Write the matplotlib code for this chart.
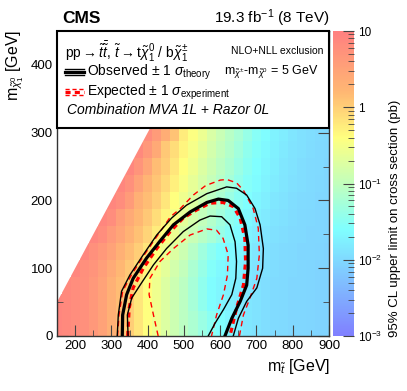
import numpy as np
import matplotlib
matplotlib.use("Agg")
import matplotlib.pyplot as plt
from matplotlib.colors import LinearSegmentedColormap, LogNorm
from matplotlib.patches import Rectangle, Polygon
from matplotlib.ticker import LogLocator, FixedLocator, NullFormatter

plt.rcParams['font.family'] = ['Liberation Sans', 'DejaVu Sans']
plt.rcParams['mathtext.fontset'] = 'custom'
plt.rcParams['mathtext.rm'] = 'Liberation Sans'
plt.rcParams['mathtext.it'] = 'Liberation Sans:italic'
plt.rcParams['mathtext.bf'] = 'Liberation Sans:bold'

nan = np.nan

# grid of the limit map (cell centres, GeV)
m_stop = np.arange(150, 901, 25)
m_lsp = np.arange(0, 301, 25)

# log10 of the 95% CL upper limit (pb), one row per m_lsp
row_0 = [0.90, 0.85, 0.80, 0.75, 0.65, 0.50, 0.30, 0.15, 0.00, -0.20, -0.40, -0.55, -0.75, -0.90, -1.05, -1.20, -1.35, -1.50, -1.60, -1.70, -1.78, -1.85, -1.90, -1.94, -1.97, -2.00, -2.02, -2.03, -2.04, -2.05, -2.05]
row_25 = [0.90, 0.85, 0.80, 0.75, 0.65, 0.50, 0.30, 0.15, 0.00, -0.20, -0.40, -0.55, -0.75, -0.90, -1.05, -1.20, -1.35, -1.50, -1.60, -1.70, -1.78, -1.85, -1.90, -1.94, -1.97, -2.00, -2.02, -2.03, -2.04, -2.05, -2.05]
row_50 = [0.90, 0.85, 0.80, 0.75, 0.65, 0.50, 0.30, 0.15, 0.00, -0.20, -0.40, -0.55, -0.75, -0.90, -1.05, -1.25, -1.45, -1.62, -1.70, -1.75, -1.80, -1.85, -1.90, -1.94, -1.97, -2.00, -2.02, -2.03, -2.04, -2.05, -2.05]
row_75 = [nan, 0.85, 0.80, 0.75, 0.65, 0.50, 0.30, 0.15, 0.00, -0.20, -0.40, -0.55, -0.75, -0.90, -1.05, -1.25, -1.45, -1.62, -1.70, -1.75, -1.80, -1.85, -1.90, -1.94, -1.97, -2.00, -2.02, -2.03, -2.04, -2.05, -2.05]
row_100 = [nan, nan, 0.90, 0.77, 0.69, 0.56, 0.38, 0.21, 0.06, -0.12, -0.32, -0.49, -0.67, -0.84, -0.99, -1.19, -1.39, -1.56, -1.66, -1.71, -1.75, -1.82, -1.88, -1.92, -1.96, -1.99, -2.01, -2.03, -2.04, -2.05, -2.05]
row_125 = [nan, nan, nan, 0.90, 0.75, 0.65, 0.50, 0.30, 0.15, 0.00, -0.20, -0.40, -0.55, -0.75, -0.90, -1.10, -1.30, -1.47, -1.60, -1.65, -1.70, -1.78, -1.85, -1.90, -1.94, -1.97, -2.00, -2.02, -2.03, -2.04, -2.05]
row_150 = [nan, nan, nan, nan, 0.90, 0.80, 0.62, 0.46, 0.27, 0.12, -0.04, -0.24, -0.43, -0.59, -0.78, -0.93, -1.08, -1.23, -1.38, -1.52, -1.62, -1.72, -1.79, -1.86, -1.91, -1.95, -1.98, -2.00, -2.02, -2.03, -2.04]
row_175 = [nan, nan, nan, nan, nan, 0.90, 0.80, 0.56, 0.38, 0.21, 0.06, -0.12, -0.32, -0.49, -0.67, -0.84, -0.99, -1.14, -1.29, -1.44, -1.56, -1.66, -1.75, -1.82, -1.88, -1.92, -1.96, -1.99, -2.01, -2.03, -2.04]
row_200 = [nan, nan, nan, nan, nan, nan, 0.90, 0.80, 0.60, 0.30, 0.15, 0.00, -0.20, -0.40, -0.55, -0.75, -0.90, -1.05, -1.20, -1.35, -1.50, -1.60, -1.70, -1.78, -1.85, -1.90, -1.94, -1.97, -2.00, -2.02, -2.03]
row_225 = [nan, nan, nan, nan, nan, nan, nan, 0.90, 0.75, 0.50, 0.24, 0.09, -0.08, -0.28, -0.46, -0.63, -0.81, -0.96, -1.11, -1.26, -1.41, -1.54, -1.64, -1.73, -1.81, -1.87, -1.92, -1.95, -1.98, -2.01, -2.02]
row_250 = [nan, nan, nan, nan, nan, nan, nan, nan, 0.90, 0.70, 0.45, 0.15, 0.00, -0.20, -0.40, -0.55, -0.75, -0.90, -1.05, -1.20, -1.35, -1.50, -1.60, -1.70, -1.78, -1.85, -1.90, -1.94, -1.97, -2.00, -2.02]
row_275 = [nan, nan, nan, nan, nan, nan, nan, nan, nan, 0.85, 0.65, 0.40, 0.06, -0.12, -0.32, -0.49, -0.67, -0.84, -0.99, -1.14, -1.29, -1.44, -1.56, -1.66, -1.75, -1.82, -1.88, -1.92, -1.96, -1.99, -2.01]
row_300 = [nan, nan, nan, nan, nan, nan, nan, nan, nan, nan, 0.80, 0.60, 0.35, 0.10, -0.24, -0.43, -0.59, -0.78, -0.93, -1.08, -1.23, -1.38, -1.52, -1.62, -1.72, -1.79, -1.86, -1.91, -1.95, -1.98, -2.00]

# exclusion contours (m_stop, m_lsp)
obs_x = [330, 331, 342, 360, 397, 434, 471, 517, 563, 595, 622, 650, 668, 677, 677, 673, 655, 632, 613]
obs_y = [0, 31, 61, 85, 115, 140, 164, 183, 197, 202, 200, 188, 164, 134, 100, 75, 51, 26, 0]
obs_up_x = [316, 319, 328, 351, 388, 425, 466, 507, 563, 618, 645, 673, 696, 710, 719, 717, 701, 673, 650, 636]
obs_up_y = [0, 31, 66, 90, 120, 149, 174, 193, 210, 220, 218, 208, 188, 164, 129, 100, 71, 51, 26, 0]
obs_dn_x = [346, 344, 356, 379, 416, 452, 498, 544, 572, 604, 627, 641, 645, 643, 632, 609, 586, 567]
obs_dn_y = [0, 31, 56, 75, 105, 129, 154, 171, 177, 176, 164, 139, 110, 85, 61, 39, 19, 0]
exp_x = [345, 349, 360, 388, 425, 462, 498, 535, 572, 608, 636, 655, 668, 670, 664, 645, 627]
exp_y = [0, 41, 71, 100, 129, 154, 174, 186, 196, 197, 191, 174, 144, 110, 75, 41, 0]
exp_up_x = [317, 321, 331, 355, 391, 428, 463, 490, 526, 560, 600, 618, 645, 664, 691, 705, 708, 701, 682, 664, 653]
exp_up_y = [0, 31, 66, 90, 120, 149, 176, 188, 208, 222, 230, 231, 226, 215, 188, 159, 120, 85, 56, 31, 0]
exp_dn_x = [429, 416, 404, 406, 434, 471, 517, 563, 590, 608, 622, 620, 609, 590, 576]
exp_dn_y = [0, 31, 61, 85, 110, 129, 149, 158, 156, 144, 120, 90, 61, 31, 0]

W, H = 407, 391
fig = plt.figure(figsize=(W / 100, H / 100), dpi=100)
ax = fig.add_axes([57 / W, 55 / H, 272 / W, 305 / H])
cax = fig.add_axes([333 / W, 55 / H, 21 / W, 305 / H])

cmap = LinearSegmentedColormap.from_list('pastel_rainbow', [
    (0.00, (0.50, 0.50, 1.00)),
    (0.20, (0.50, 0.78, 1.00)),
    (0.35, (0.50, 1.00, 1.00)),
    (0.50, (0.76, 1.00, 0.74)),
    (0.65, (1.00, 1.00, 0.50)),
    (0.80, (1.00, 0.72, 0.45)),
    (1.00, (1.00, 0.50, 0.50)),
])
norm = LogNorm(1e-3, 10)

limit = 10 ** np.array([row_0, row_25, row_50, row_75, row_100, row_125, row_150,
                        row_175, row_200, row_225, row_250, row_275, row_300])
x_edges = np.append(m_stop - 12.5, m_stop[-1] + 12.5)
y_edges = np.append(m_lsp - 12.5, m_lsp[-1] + 12.5)
mesh = ax.pcolormesh(x_edges, y_edges, np.ma.masked_invalid(limit), cmap=cmap, norm=norm, zorder=1)

# kinematic boundary m_lsp = m_stop - 100
ax.add_patch(Polygon([(130, 30), (430, 330), (130, 330)], closed=True, fc='white', ec='none', zorder=2))

ax.plot(obs_x, obs_y, color='black', lw=2.3, zorder=4)
ax.plot(obs_up_x, obs_up_y, color='black', lw=1.0, zorder=4)
ax.plot(obs_dn_x, obs_dn_y, color='black', lw=1.0, zorder=4)
ax.plot(exp_x, exp_y, color='red', lw=2.3, dashes=(1.6, 1.3), zorder=3)
ax.plot(exp_up_x, exp_up_y, color='red', lw=1.0, dashes=(4, 3), zorder=3)
ax.plot(exp_dn_x, exp_dn_y, color='red', lw=1.0, dashes=(4, 3), zorder=3)

ax.set_xlim(150, 900)
ax.set_ylim(0, 450)
ax.xaxis.set_major_locator(FixedLocator(range(200, 901, 100)))
ax.xaxis.set_minor_locator(FixedLocator(range(150, 901, 50)))
ax.yaxis.set_major_locator(FixedLocator(range(0, 401, 100)))
ax.yaxis.set_minor_locator(FixedLocator(range(0, 451, 50)))
ax.tick_params(which='both', direction='in', top=True, right=True, color='#444', labelsize=9.5, pad=3)
ax.tick_params(which='major', length=8)
ax.tick_params(which='minor', length=4)
for s in ax.spines.values():
    s.set_color('#333')
    s.set_linewidth(1.0)

# legend box
ax.add_patch(Rectangle((0, 0.682), 1, 0.318, transform=ax.transAxes, fc='white', ec='black', lw=1.5, zorder=5, clip_on=False))
ax.text(0.029, 0.931, r'pp$\rightarrow\tilde{t}\bar{\tilde{t}}$, $\tilde{t}\rightarrow$t$\tilde{\chi}^{0}_{1}$ / b$\tilde{\chi}^{\pm}_{1}$',
        transform=ax.transAxes, fontsize=10, va='center', ha='left', zorder=6)
ax.text(0.978, 0.934, 'NLO+NLL exclusion', transform=ax.transAxes, fontsize=7.5, va='center', ha='right', zorder=6)
ax.text(0.11, 0.866, r'Observed $\pm$ 1 $\sigma_{\mathrm{theory}}$', transform=ax.transAxes, fontsize=10, va='center', ha='left', zorder=6)
ax.text(0.963, 0.866, r'm$_{\tilde{\chi}^{\pm}}$-m$_{\tilde{\chi}^{0}}$ = 5 GeV', transform=ax.transAxes, fontsize=9, va='center', ha='right', zorder=6)
ax.text(0.11, 0.800, r'Expected $\pm$ 1 $\sigma_{\mathrm{experiment}}$', transform=ax.transAxes, fontsize=10, va='center', ha='left', zorder=6)
ax.text(0.037, 0.741, 'Combination MVA 1L + Razor 0L', transform=ax.transAxes, fontsize=10, style='italic', va='center', ha='left', zorder=6)

icon_x = [0.03, 0.10]
d = 0.011
ax.plot(icon_x, [0.866, 0.866], transform=ax.transAxes, color='black', lw=2.3, zorder=6)
ax.plot(icon_x, [0.866 + d, 0.866 + d], transform=ax.transAxes, color='black', lw=1.0, zorder=6)
ax.plot(icon_x, [0.866 - d, 0.866 - d], transform=ax.transAxes, color='black', lw=1.0, zorder=6)
ax.plot(icon_x, [0.800, 0.800], transform=ax.transAxes, color='red', lw=2.3, dashes=(1.6, 1.3), zorder=6)
ax.plot(icon_x, [0.800 + d, 0.800 + d], transform=ax.transAxes, color='red', lw=1.0, dashes=(3, 2), zorder=6)
ax.plot(icon_x, [0.800 - d, 0.800 - d], transform=ax.transAxes, color='red', lw=1.0, dashes=(3, 2), zorder=6)

# colour bar
cb = fig.colorbar(mesh, cax=cax)
cb.outline.set_visible(False)
cax.yaxis.set_major_locator(FixedLocator([1e-3, 1e-2, 1e-1, 1, 10]))
cax.set_yticklabels([r'10$^{-3}$', r'10$^{-2}$', r'10$^{-1}$', '1', '10'])
cax.yaxis.set_minor_locator(LogLocator(subs=np.arange(2, 10)))
cax.yaxis.set_minor_formatter(NullFormatter())
cax.tick_params(which='both', direction='in', color='#444', labelsize=8.5, pad=3)
cax.tick_params(which='major', length=8)
cax.tick_params(which='minor', length=4)

fig.text(395 / W, 1 - 337 / H, '95% CL upper limit on cross section (pb)', rotation=90,
         ha='center', va='bottom', fontsize=9.5)
fig.text(330 / W, 1 - 366 / H, r'm$_{\tilde{t}}$ [GeV]', ha='right', va='center', fontsize=11.5)
fig.text(15 / W, 1 - 30 / H, r'm$_{\tilde{\chi}^{0}_{1}}$ [GeV]', rotation=90, ha='center', va='top', fontsize=11.5)
fig.text(62 / W, 1 - 23 / H, 'CMS', fontsize=12.5, fontweight='bold', ha='left', va='baseline')
fig.text(330 / W, 1 - 23 / H, r'19.3 fb$^{-1}$ (8 TeV)', fontsize=11, ha='right', va='baseline')

fig.savefig('out.png', dpi=100)
